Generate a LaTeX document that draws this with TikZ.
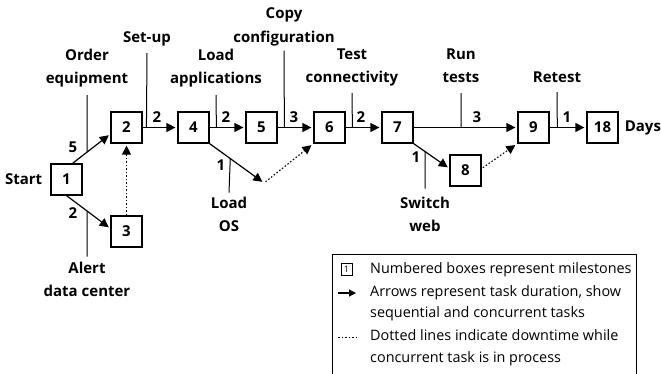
\documentclass[tikz,border=0pt]{standalone}
\usepackage{fontspec}
\setmainfont{Open Sans}
\usetikzlibrary{arrows.meta,calc}

\begin{document}
\begin{tikzpicture}[x=1pt,y=-1pt,
  ms/.style={draw, line width=1.2pt, minimum size=31pt, inner sep=0pt,
    font=\fontsize{15}{18}\selectfont\bfseries},
  task/.style={line width=1.2pt, -{Triangle[length=9pt,width=9pt]}, shorten >=2pt},
  wait/.style={line width=1.1pt, dash pattern=on 1.5pt off 2pt,
    -{Triangle[length=9pt,width=9pt]}},
  tick/.style={line width=1pt},
  lab/.style={font=\fontsize{15}{23.5}\selectfont\bfseries, align=center,
    inner sep=0pt, text depth=0pt, anchor=south},
  num/.style={font=\fontsize{15}{18}\selectfont\bfseries, inner sep=0pt},
  leg/.style={font=\fontsize{14.4}{21.5}\selectfont, align=left, inner sep=0pt,
    text depth=0pt, anchor=south west}
]
\useasboundingbox (0,0) rectangle (661,373);

% milestones
\node[ms] (b1)  at (66.5,179.5)  {1};
\node[ms] (b2)  at (126.5,127.5) {2};
\node[ms] (b3)  at (126.5,231.5) {3};
\node[ms] (b4)  at (193.5,127.5) {4};
\node[ms] (b5)  at (261.5,127.5) {5};
\node[ms] (b6)  at (329.5,127.5) {6};
\node[ms] (b7)  at (397.5,127.5) {7};
\node[ms] (b8)  at (465.5,170.5) {8};
\node[ms] (b9)  at (533.5,127.5) {9};
\node[ms] (b18) at (602.5,127.5) {18};

\node[num, anchor=east] (start) at ($(b1.west)+(-8,0)$) {Start};
\node[num, anchor=west] (days)  at ($(b18.east)+(6,0)$) {Days};

% task arrows
\draw[task] ($(b1.north)+(6,0)$) -- coordinate[pos=0.385] (t12) ($(b2.west)+(0,6.5)$);
\draw[task] (b1.south) -- coordinate[pos=0.467] (t13) ($(b3.west)+(0,-3)$);
\draw[task] (b2.east) -- coordinate[pos=0.11] (t24) (b4.west);
\draw[task] (b4.east) -- coordinate[pos=0.19] (t45) (b5.west);
\coordinate (os) at (264,183);
\draw[task] (b4.south east) -- coordinate[pos=0.38] (t4os) (os);
\draw[task] (b5.east) -- coordinate[pos=0.19] (t56) (b6.west);
\draw[task] (b6.east) -- coordinate[pos=0.19] (t67) (b7.west);
\draw[task] (b7.east) -- coordinate[pos=0.457] (t79) (b9.west);
\draw[task] (b7.south east) -- coordinate[pos=0.324] (t78) ($(b8.west)+(0,-2)$);
\draw[task] (b9.east) -- coordinate[pos=0.21] (t918) (b18.west);

% downtime
\draw[wait, shorten >=2pt] (b3.north) -- (b2.south);
\draw[wait, shorten <=2pt, shorten >=2.5pt] (os) -- (b6.south west);
\draw[wait, shorten <=1.5pt, shorten >=2.5pt] ($(b8.east)+(0,-2)$) -- (b9.south west);

% durations
\node[num] (d12)  at (73,147)  {5};
\node[num] (d13)  at (73,213)  {2};
\node[num] (d24)  at (157,117) {2};
\node[num] (d45)  at (226,117) {2};
\node[num] (d4os) at (221,165) {1};
\node[num] (d56)  at (294,117) {3};
\node[num] (d67)  at (361,117) {2};
\node[num] (d78)  at (416,157) {1};
\node[num] (d79)  at (477,117) {3};
\node[num] (d918) at (567,117) {1};

% task names
\node[lab] (lorder) at (87,84)    {Order\\equipment};
\node[lab] (lset)   at (147,43)   {Set-up};
\node[lab] (lapp)   at (216,84)   {Load\\applications};
\node[lab] (lcopy)  at (284,42.5) {Copy\\configuration};
\node[lab] (lconn)  at (352,83)   {Test\\connectivity};
\node[lab] (lrun)   at (461,83)   {Run\\tests};
\node[lab] (lre)    at (557,83)   {Retest};
\node[lab] (los)    at (229,232)  {Load\\OS};
\node[lab] (lweb)   at (425,232)  {Switch\\web};
\node[lab] (lalert) at (87,297)   {Alert\\data center};

\draw[tick] (t12)  -- ($(lorder.south)+(0,11)$);
\draw[tick] (t24)  -- ($(lset.south)+(0,10)$);
\draw[tick] (t45)  -- ($(lapp.south)+(0,11)$);
\draw[tick] (t56)  -- ($(lcopy.south)+(0,8)$);
\draw[tick] (t67)  -- ($(lconn.south)+(0,10)$);
\draw[tick] (t79)  -- ($(lrun.south)+(0,10)$);
\draw[tick] (t918) -- ($(lre.south)+(0,9)$);
\draw[tick] (t4os) -- ($(los.north)+(0,-4)$);
\draw[tick] (t78)  -- ($(lweb.north)+(0,-8)$);
\draw[tick] (t13)  -- ($(lalert.north)+(0,-5)$);

% key
\draw[line width=1pt] (332,374) -- (332,254) -- (636,254) -- (636,374);
\node[draw, line width=0.8pt, minimum width=11pt, minimum height=12pt, inner sep=0pt,
  font=\fontsize{9}{9}\selectfont] (k1) at (346.5,269.5) {1};
\node[leg] (l1) at (370,273.5) {Numbered boxes represent milestones};
\coordinate (k2a) at (338,293);
\coordinate (k2b) at (356,293);
\draw[line width=1.2pt, -{Triangle[length=7pt,width=7pt]}] (k2a) -- (k2b);
\node[leg] (l2) at (370,318) {Arrows represent task duration, show\\sequential and concurrent tasks};
\coordinate (k3a) at (338,337);
\coordinate (k3b) at (356,337);
\draw[line width=0.9pt, dash pattern=on 1.5pt off 2pt] (k3a) -- (k3b);
\node[leg] (l3) at (370,362.5) {Dotted lines indicate downtime while\\concurrent task is in process};
\end{tikzpicture}
\end{document}
